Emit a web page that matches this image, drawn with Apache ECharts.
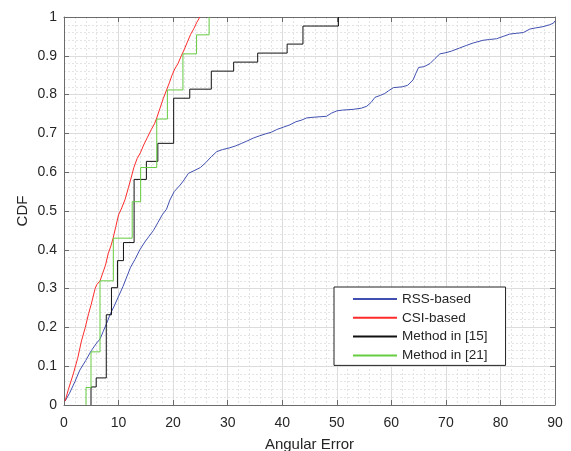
<!DOCTYPE html>
<html>
<head>
<meta charset="utf-8">
<script src="https://cdn.jsdelivr.net/npm/echarts@6/dist/echarts.min.js"></script>
<style>
    html, body {margin: 0; padding: 0; background: #fff;}
    #chart {width: 571px; height: 451px;}
</style>
</head>
<body>
<div id="chart"></div>
<script>
// values: [angular error, CDF]
var rssBased = [
    [0.2, 0.01], [1.0, 0.03], [2.0, 0.06], [2.9, 0.09], [4.0, 0.115], [5.0, 0.14], [6.0, 0.16],
    [6.6, 0.17], [7.2, 0.19], [7.8, 0.21], [8.5, 0.235], [9.2, 0.255], [10.0, 0.28], [10.8, 0.305],
    [11.5, 0.33], [12.2, 0.355], [13.0, 0.375], [13.9, 0.4], [14.8, 0.42], [15.6, 0.435], [16.4, 0.45],
    [17.2, 0.47], [18.0, 0.49], [18.8, 0.505], [19.4, 0.528], [20.2, 0.55], [21.3, 0.567], [22.0, 0.58],
    [22.8, 0.597], [24.0, 0.605], [25.0, 0.612], [26.0, 0.625], [27.0, 0.64], [28.0, 0.653], [29.0, 0.658],
    [30.4, 0.663], [31.5, 0.668], [32.5, 0.674], [33.5, 0.68], [34.7, 0.688], [35.9, 0.694], [37.0, 0.699],
    [38.0, 0.703], [39.0, 0.71], [40.2, 0.716], [41.4, 0.722], [42.5, 0.73], [43.5, 0.734], [44.5, 0.74],
    [46.0, 0.742], [48.1, 0.744], [49.0, 0.752], [50.0, 0.758], [51.0, 0.76], [53.0, 0.762], [54.5, 0.765],
    [55.5, 0.77], [56.3, 0.78], [57.0, 0.793], [58.0, 0.798], [58.8, 0.803], [59.5, 0.81], [60.4, 0.818],
    [62.0, 0.82], [63.0, 0.824], [64.0, 0.838], [64.5, 0.855], [65.0, 0.87], [66.0, 0.872], [67.1, 0.88],
    [68.0, 0.893], [68.9, 0.905], [70.0, 0.908], [71.0, 0.912], [72.5, 0.92], [73.8, 0.927], [75.0, 0.933],
    [76.8, 0.94], [78.0, 0.942], [79.3, 0.944], [80.5, 0.95], [81.7, 0.956], [83.0, 0.958], [84.2, 0.96],
    [85.4, 0.969], [86.5, 0.972], [87.8, 0.975], [89.0, 0.98], [89.7, 0.984], [90.0, 0.99]
];
var csiBased = [
    [0.2, 0.01], [0.8, 0.04], [1.7, 0.08], [2.5, 0.12], [3.2, 0.165], [3.9, 0.2], [4.5, 0.235],
    [5.0, 0.26], [5.7, 0.3], [6.0, 0.31], [6.6, 0.32], [7.1, 0.34], [7.6, 0.36], [8.1, 0.39],
    [8.6, 0.41], [9.0, 0.43], [9.5, 0.46], [10.0, 0.49], [10.5, 0.505], [11.2, 0.53], [11.8, 0.56],
    [12.3, 0.585], [12.8, 0.612], [13.4, 0.635], [14.0, 0.65], [14.6, 0.67], [15.3, 0.69], [16.0, 0.71],
    [16.6, 0.725], [17.0, 0.74], [17.6, 0.765], [18.2, 0.79], [18.8, 0.812], [19.3, 0.83], [19.8, 0.85],
    [20.3, 0.866], [20.9, 0.88], [21.5, 0.9], [22.0, 0.915], [22.6, 0.935], [23.2, 0.955], [23.8, 0.97],
    [24.3, 0.985], [24.9, 1.0]
];
// stair curves: x where the jump happens, level after the jump
var method15 = [
    [4.95, 0], [4.95, 0.0465], [5.9, 0.0698], [7.75, 0.2326], [8.7, 0.3023], [9.8, 0.3721],
    [10.9, 0.4186], [12.85, 0.5814], [15.1, 0.6279], [17.2, 0.6744], [20.1, 0.7907], [23.05, 0.814],
    [27.0, 0.8605], [31.1, 0.8837], [35.5, 0.907], [40.9, 0.9302], [43.8, 0.9767], [50.3, 1.0]
];
var method21 = [
    [4.03, 0], [4.03, 0.045], [4.95, 0.137], [6.6, 0.32], [9.04, 0.43], [12.5, 0.524], [14.05, 0.612],
    [17.0, 0.737], [18.95, 0.812], [21.8, 0.905], [24.3, 0.954], [26.6, 1.0]
];
var seriesNames = ['RSS-based', 'CSI-based', 'Method in [15]', 'Method in [21]'];
var seriesColors = ['#4150b0', '#ff2b2b', '#111111', '#66cc40'];

var FONT = 'Liberation Sans, Arial, sans-serif';
var TEXT_COLOR = '#262626';

function boxAxis(pos, min, max, interval, withLabels) {
    var ax = {
        type: 'value', position: pos, min: min, max: max, interval: interval,
        axisLine: {show: true, onZero: false, lineStyle: {color: '#6b6b6b', width: 1}},
        axisTick: {show: true, inside: true, length: 5, lineStyle: {color: '#6b6b6b'}},
        axisLabel: {show: withLabels, color: TEXT_COLOR, fontSize: 14, fontFamily: FONT},
        splitLine: {show: false}
    };
    if (withLabels) {
        ax.splitLine = {show: true, lineStyle: {color: '#dcdcdc', width: 1}};
        ax.minorTick = {show: false, splitNumber: 5};
        ax.minorSplitLine = {show: true, lineStyle: {color: '#e4e4e4', width: 1, type: [2, 2]}};
    }
    return ax;
}

var xMain = boxAxis('bottom', 0, 90, 10, true);
xMain.axisLabel.margin = 11;
xMain.name = 'Angular Error';
xMain.nameLocation = 'middle';
xMain.nameGap = 32;
xMain.nameMoveOverlap = false;
xMain.nameTextStyle = {color: TEXT_COLOR, fontSize: 15, fontFamily: FONT};

var yMain = boxAxis('left', 0, 1, 0.1, true);
yMain.axisLabel.margin = 7;
yMain.name = 'CDF';
yMain.nameLocation = 'middle';
yMain.nameGap = 34;
yMain.nameMoveOverlap = false;
yMain.nameTextStyle = {color: TEXT_COLOR, fontSize: 15, fontFamily: FONT};

var dataSets = [rssBased, csiBased, method15, method21];
var series = [];
for (var i = 0; i < dataSets.length; i++) {
    var s = {
        name: seriesNames[i],
        type: 'line',
        data: dataSets[i],
        symbol: 'none',
        lineStyle: {color: seriesColors[i], width: 1},
        itemStyle: {color: seriesColors[i]},
        animation: false
    };
    if (i >= 2) s.step = 'end';
    series.push(s);
}

var option = {
    animation: false,
    grid: {left: 64, right: 16, top: 17, bottom: 46, containLabel: false, outerBoundsMode: 'none'},
    xAxis: [xMain, boxAxis('top', 0, 90, 10, false)],
    yAxis: [yMain, boxAxis('right', 0, 1, 0.1, false)],
    legend: {
        data: seriesNames,
        orient: 'vertical',
        left: 334,
        top: 287,
        padding: [5, 18, 3, 18],
        itemWidth: 44,
        itemHeight: 14,
        itemGap: 4.8,
        itemStyle: {opacity: 0},
        backgroundColor: '#fff',
        borderColor: '#222',
        borderWidth: 1,
        borderRadius: 0,
        textStyle: {color: TEXT_COLOR, fontSize: 13.5, fontFamily: FONT}
    },
    series: series
};

var myChart = echarts.init(document.getElementById('chart'));
myChart.setOption(option);
</script>
</body>
</html>
